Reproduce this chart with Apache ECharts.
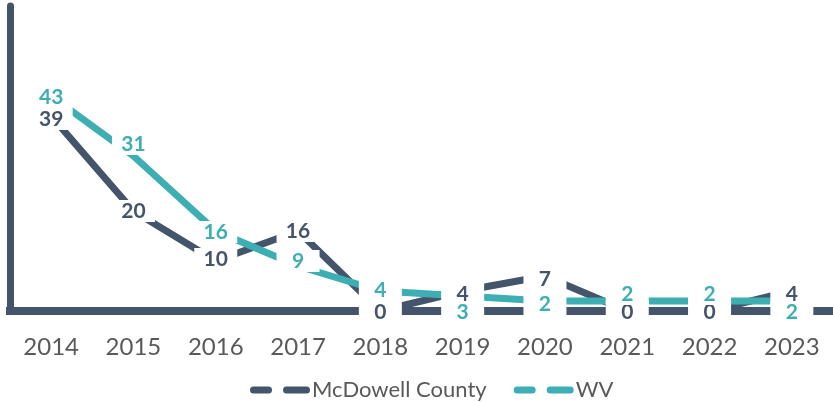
<!DOCTYPE html>
<html>
<head>
<meta charset="utf-8">
<script src="https://cdn.jsdelivr.net/npm/echarts@6/dist/echarts.min.js"></script>
<style>
  html, body { margin: 0; padding: 0; background: #fff; }
  #chart { width: 833px; height: 402px; }
</style>
</head>
<body>
<div id="chart"></div>
<script>
// years on the x axis
var years = ['2014', '2015', '2016', '2017', '2018', '2019', '2020', '2021', '2022', '2023'];
// series values
var mcdowell = [39, 20, 10, 16, 0, 4, 7, 0, 0, 4];
var wv = [43, 31, 16, 9, 4, 3, 2, 2, 2, 2];

// vertical nudges (px) for the data labels so they do not collide
var mcShift = [3, 0, -2, 0, 1, 3, 3, 1, 1, 3];
var wvShift = [1, -12, 1, -5, -1, 16, 3, -7, -7, 11];

var dark = '#44546A';
var teal = '#3DAEB2';
var font = 'Lato, "Noto Sans", sans-serif';

function withLabels(values, shift) {
    return values.map(function (v, i) {
        return { value: v, label: { offset: [0, shift[i]] } };
    });
}

function labelStyle(color) {
    return {
        show: true,
        position: 'inside',
        color: color,
        fontFamily: font,
        fontWeight: 'bold',
        fontSize: 21,
        width: 43,
        height: 22,
        lineHeight: 22,
        align: 'center',
        verticalAlign: 'middle',
        backgroundColor: '#fff'
    };
}

// two rounded dashes for the legend key
var dashIcon = 'path://M3.5,0H18.5A3.5,3.5 0 0 1 18.5,7H3.5A3.5,3.5 0 0 1 3.5,0Z' +
    'M36.5,0H56.5A3.5,3.5 0 0 1 56.5,7H36.5A3.5,3.5 0 0 1 36.5,0Z';

var chart = echarts.init(document.getElementById('chart'));
chart.setOption({
    animation: false,
    grid: { left: 10, top: 6, width: 830, height: 305 },
    legend: {
        data: ['McDowell County', 'WV'],
        left: 245,
        top: 374,
        icon: dashIcon,
        itemWidth: 60,
        itemHeight: 7,
        itemGap: 27,
        textStyle: { color: '#595959', fontFamily: font, fontSize: 22, padding: [0, 0, 0, -3] }
    },
    xAxis: {
        type: 'category',
        data: years,
        axisLine: { lineStyle: { color: dark, width: 8, cap: 'square' } },
        axisTick: { show: false },
        axisLabel: { color: '#595959', fontFamily: font, fontSize: 24, margin: 24 }
    },
    yAxis: {
        type: 'value',
        min: 0,
        max: 61,
        axisLine: { show: true, lineStyle: { color: dark, width: 7 } },
        axisTick: { show: false },
        axisLabel: { show: false },
        splitLine: { show: false }
    },
    series: [
        {
            name: 'McDowell County',
            type: 'line',
            data: withLabels(mcdowell, mcShift),
            symbol: 'circle',
            symbolSize: 1,
            itemStyle: { color: dark },
            lineStyle: { color: dark, width: 7, cap: 'butt' },
            label: labelStyle(dark)
        },
        {
            name: 'WV',
            type: 'line',
            data: withLabels(wv, wvShift),
            symbol: 'circle',
            symbolSize: 1,
            itemStyle: { color: teal },
            lineStyle: { color: teal, width: 7, cap: 'butt' },
            label: labelStyle(teal)
        }
    ]
});
</script>
</body>
</html>
